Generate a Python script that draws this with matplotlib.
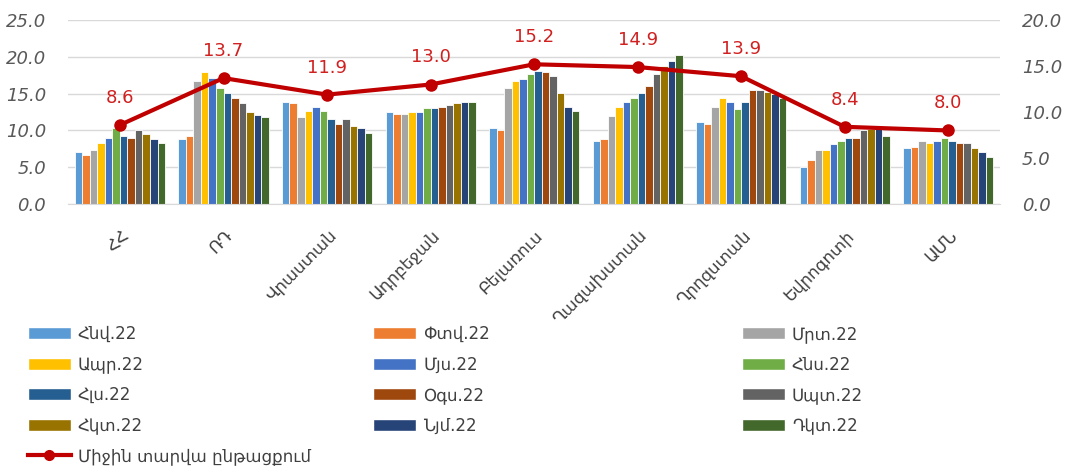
import matplotlib.pyplot as plt
import numpy as np
from matplotlib.lines import Line2D
from matplotlib.patches import Patch

plt.rcParams['font.family'] = ['DejaVu Sans']

# Categories (countries) and monthly series
countries = ['ՀՀ', 'ՌԴ', 'Վրաստան', 'Ադրբեջան', 'Բելառուս',
             'Ղազախստան', 'Ղրղզստան', 'Եվրոգոտի', 'ԱՄՆ']
months = ['Հնվ.22', 'Փտվ.22', 'Մրտ.22', 'Ապր.22', 'Մյս.22', 'Հնս.22',
          'Հլս.22', 'Օգս.22', 'Սպտ.22', 'Հկտ.22', 'Նյմ.22', 'Դկտ.22']
month_colors = ['#5B9BD5', '#ED7D31', '#A5A5A5', '#FFC000', '#4472C4', '#70AD47',
                '#255E91', '#9E480E', '#636363', '#997300', '#264478', '#43682B']

# rows = countries, columns = months
hh = [7.1, 6.7, 7.4, 8.3, 9.0, 10.4, 9.2, 9.0, 10.0, 9.5, 8.8, 8.3]
rd = [8.8, 9.2, 16.7, 17.9, 17.2, 15.8, 15.1, 14.4, 13.7, 12.5, 12.1, 11.8]
vrastan = [13.9, 13.7, 11.8, 12.7, 13.2, 12.7, 11.6, 10.9, 11.6, 10.6, 10.4, 9.7]
adrbejan = [12.5, 12.3, 12.3, 12.5, 12.5, 13.0, 13.0, 13.2, 13.5, 13.7, 13.9, 13.9]
belarus = [10.4, 10.0, 15.8, 16.7, 17.0, 17.7, 18.1, 17.9, 17.4, 15.1, 13.2, 12.7]
ghazakh = [8.6, 8.8, 12.0, 13.2, 13.9, 14.4, 15.1, 16.0, 17.7, 18.8, 19.5, 20.2]
ghrghz = [11.1, 10.9, 13.2, 14.4, 13.9, 12.9, 13.9, 15.5, 15.5, 15.3, 14.9, 14.4]
evrogoti = [5.0, 6.0, 7.4, 7.4, 8.1, 8.6, 9.0, 9.0, 10.0, 10.2, 10.2, 9.2]
amn = [7.6, 7.8, 8.6, 8.3, 8.6, 9.0, 8.6, 8.3, 8.3, 7.6, 7.1, 6.4]
values = np.array([hh, rd, vrastan, adrbejan, belarus, ghazakh, ghrghz, evrogoti, amn])

# yearly average (secondary axis)
avg = [8.6, 13.7, 11.9, 13.0, 15.2, 14.9, 13.9, 8.4, 8.0]
avg_label = 'Միջին տարվա ընթացքում'

fig = plt.figure(figsize=(10.66, 4.69), dpi=100)
ax = fig.add_axes([0.064, 0.565, 0.874, 0.392])
ax2 = ax.twinx()

x = np.arange(len(countries))
group_w = 0.87
bw = group_w / len(months)
for i, m in enumerate(months):
    ax.bar(x - group_w / 2 + bw * (i + 0.5), values[:, i], width=bw,
           color=month_colors[i], edgecolor='white', linewidth=0.6, zorder=2)

ax2.plot(x, avg, color='#C00000', lw=3, marker='o', ms=8, zorder=5)
for xi, v in zip(x, avg):
    ax2.annotate(f'{v:.1f}', (xi, v), xytext=(0, 13), textcoords='offset points',
                 ha='center', va='bottom', color='#D02020', fontsize=13)

ax.set_xlim(-0.5, len(countries) - 0.5)
ax.set_ylim(0, 25)
ax.set_yticks(np.arange(0, 26, 5))
ax2.set_ylim(0, 20)
ax2.set_yticks(np.arange(0, 21, 5))
ax.yaxis.grid(True, color='#D9D9D9', lw=1, zorder=0)
ax.set_axisbelow(True)
for a in (ax, ax2):
    for s in ['top', 'left', 'right']:
        a.spines[s].set_visible(False)
    a.spines['bottom'].set_color('#D9D9D9')
    a.tick_params(axis='y', length=0, labelsize=13, labelcolor='#595959', pad=16)
    a.yaxis.set_major_formatter(plt.FormatStrFormatter('%.1f'))
    for t in a.get_yticklabels():
        t.set_fontstyle('italic')
ax2.spines['bottom'].set_visible(False)

ax.set_xticks(x)
ax.set_xticklabels(countries, rotation=45, ha='right', rotation_mode='anchor',
                   fontsize=12, color='#404040')
ax.tick_params(axis='x', length=0, pad=16)

# legend in three columns
patches = [Patch(facecolor=c, edgecolor='white', label=m) for m, c in zip(months, month_colors)]
line_h = Line2D([0], [0], color='#C00000', lw=3, marker='o', ms=7, label=avg_label)
cols = [[patches[0], patches[3], patches[6], patches[9], line_h],
        [patches[1], patches[4], patches[7], patches[10]],
        [patches[2], patches[5], patches[8], patches[11]]]
xs = [0.026, 0.350, 0.696]
for cx, hs in zip(xs, cols):
    fig.legend(handles=hs, loc='upper left', bbox_to_anchor=(cx, 0.307),
               frameon=False, fontsize=12, handlelength=2.6, handleheight=0.75,
               handletextpad=0.4, labelspacing=0.75, borderpad=0, borderaxespad=0,
               labelcolor='#404040')

fig.savefig('out.png', dpi=100)
